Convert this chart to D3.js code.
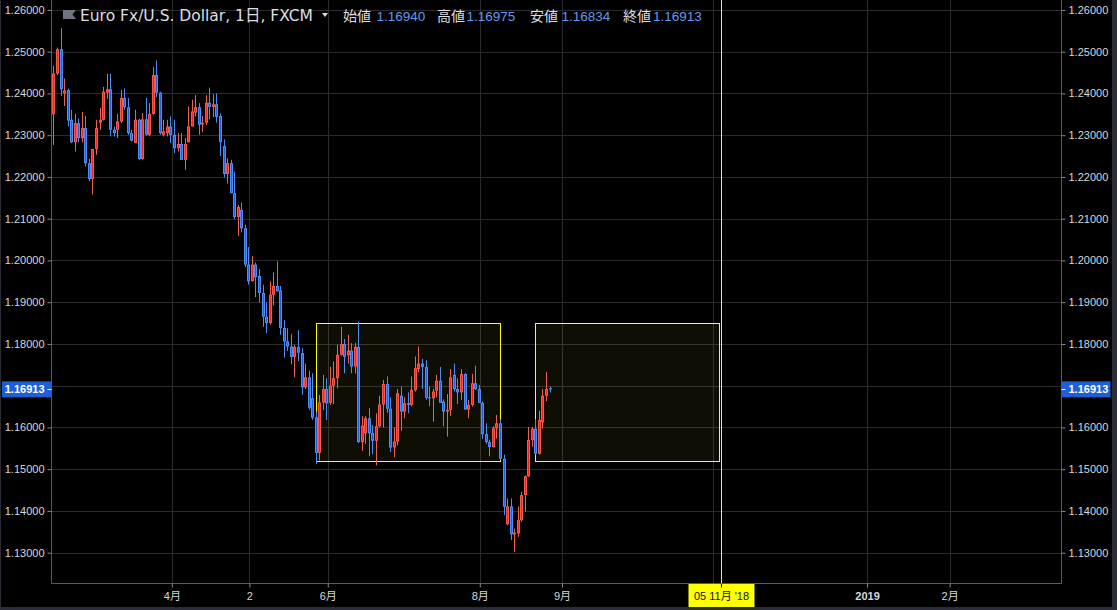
<!DOCTYPE html>
<html><head><meta charset="utf-8">
<script src="https://cdn.jsdelivr.net/npm/d3@7"></script>
<style>
html,body{margin:0;padding:0;background:#000;}
svg{display:block;}
</style></head><body>
<svg id="chart" width="1117" height="610"></svg>
<script>
// ---- data (EUR/USD daily, FXCM) ----
const opens = [1.2350,1.2448,1.2506,1.2400,1.2408,1.2337,1.2283,1.2329,1.2293,1.2317,
1.2233,1.2195,1.2267,1.2330,1.2337,1.2402,1.2410,1.2313,1.2313,1.2333,
1.2389,1.2367,1.2305,1.2281,1.2337,1.2243,1.2338,1.2301,1.2351,1.2444,
1.2402,1.2301,1.2305,1.2321,1.2301,1.2269,1.2279,1.2241,1.2283,1.2321,
1.2354,1.2367,1.2326,1.2330,1.2378,1.2368,1.2374,1.2346,1.2274,1.2207,
1.2233,1.2161,1.2104,1.2121,1.2077,1.1990,1.1950,1.1990,1.1963,1.1922,
1.1865,1.1850,1.1918,1.1939,1.1928,1.1838,1.1806,1.1794,1.1769,1.1793,
1.1778,1.1696,1.1720,1.1670,1.1624,1.1539,1.1660,1.1692,1.1659,1.1700,
1.1718,1.1774,1.1800,1.1773,1.1784,1.1746,1.1793,1.1565,1.1586,1.1622,
1.1587,1.1568,1.1603,1.1655,1.1704,1.1645,1.1552,1.1566,1.1676,1.1638,
1.1658,1.1654,1.1690,1.1740,1.1753,1.1745,1.1672,1.1670,1.1688,1.1712,
1.1662,1.1638,1.1642,1.1726,1.1692,1.1684,1.1728,1.1643,1.1654,1.1706,
1.1692,1.1659,1.1584,1.1565,1.1553,1.1598,1.1610,1.1525,1.1368,1.1411,
1.1344,1.1346,1.1378,1.1438,1.1483,1.1570,1.1597,1.1537,1.1612,1.1676,
1.16940];
const highs = [1.2466,1.2510,1.2556,1.2436,1.2412,1.2361,1.2351,1.2340,1.2356,1.2346,
1.2243,1.2267,1.2337,1.2365,1.2416,1.2447,1.2447,1.2321,1.2351,1.2408,
1.2412,1.2389,1.2313,1.2361,1.2340,1.2353,1.2389,1.2377,1.2463,1.2479,
1.2404,1.2337,1.2337,1.2345,1.2337,1.2305,1.2305,1.2293,1.2369,1.2385,
1.2396,1.2377,1.2346,1.2396,1.2414,1.2398,1.2400,1.2352,1.2290,1.2245,
1.2241,1.2213,1.2133,1.2139,1.2085,1.2032,1.2011,1.1995,1.1979,1.1942,
1.1900,1.1950,1.1971,1.1998,1.1939,1.1857,1.1838,1.1824,1.1798,1.1833,
1.1790,1.1753,1.1736,1.1730,1.1638,1.1678,1.1726,1.1718,1.1745,1.1758,
1.1798,1.1841,1.1812,1.1822,1.1802,1.1802,1.1853,1.1627,1.1627,1.1646,
1.1606,1.1634,1.1676,1.1714,1.1722,1.1672,1.1600,1.1692,1.1698,1.1672,
1.1684,1.1722,1.1770,1.1794,1.1764,1.1761,1.1698,1.1692,1.1726,1.1745,
1.1667,1.1680,1.1740,1.1753,1.1718,1.1740,1.1730,1.1666,1.1728,1.1748,
1.1702,1.1662,1.1610,1.1571,1.1603,1.1630,1.1619,1.1535,1.1430,1.1430,
1.1358,1.1410,1.1446,1.1485,1.1601,1.1601,1.1620,1.1640,1.1692,1.1733,
1.16975];
const lows = [1.2277,1.2444,1.2394,1.2370,1.2321,1.2281,1.2261,1.2283,1.2283,1.2225,
1.2190,1.2158,1.2253,1.2313,1.2335,1.2387,1.2297,1.2297,1.2293,1.2329,
1.2361,1.2301,1.2285,1.2281,1.2240,1.2240,1.2299,1.2298,1.2349,1.2391,
1.2301,1.2297,1.2297,1.2281,1.2257,1.2261,1.2241,1.2217,1.2283,1.2321,
1.2345,1.2301,1.2308,1.2324,1.2338,1.2343,1.2330,1.2250,1.2199,1.2184,
1.2161,1.2099,1.2059,1.2067,1.1984,1.1942,1.1950,1.1912,1.1900,1.1841,
1.1826,1.1846,1.1892,1.1926,1.1822,1.1767,1.1783,1.1751,1.1720,1.1759,
1.1678,1.1692,1.1642,1.1618,1.1512,1.1521,1.1642,1.1618,1.1654,1.1656,
1.1694,1.1772,1.1730,1.1753,1.1730,1.1729,1.1563,1.1544,1.1561,1.1531,
1.1536,1.1509,1.1600,1.1600,1.1635,1.1541,1.1529,1.1557,1.1592,1.1622,
1.1634,1.1651,1.1686,1.1732,1.1692,1.1666,1.1651,1.1614,1.1672,1.1659,
1.1603,1.1578,1.1627,1.1686,1.1656,1.1666,1.1643,1.1622,1.1650,1.1690,
1.1659,1.1573,1.1561,1.1531,1.1552,1.1573,1.1522,1.1390,1.1366,1.1330,
1.1302,1.1338,1.1374,1.1398,1.1481,1.1554,1.1535,1.1535,1.1597,1.1663,
1.16834];
const closes = [1.2448,1.2506,1.2410,1.2407,1.2335,1.2283,1.2329,1.2293,1.2317,1.2233,
1.2195,1.2267,1.2317,1.2337,1.2404,1.2410,1.2313,1.2305,1.2333,1.2389,
1.2367,1.2305,1.2287,1.2337,1.2243,1.2338,1.2301,1.2351,1.2444,1.2402,
1.2305,1.2309,1.2321,1.2301,1.2269,1.2279,1.2241,1.2279,1.2321,1.2357,
1.2367,1.2325,1.2330,1.2378,1.2368,1.2374,1.2344,1.2284,1.2207,1.2233,
1.2161,1.2104,1.2128,1.2077,1.1990,1.1950,1.1990,1.1960,1.1922,1.1865,
1.1850,1.1918,1.1939,1.1926,1.1838,1.1806,1.1794,1.1769,1.1793,1.1779,
1.1696,1.1720,1.1647,1.1623,1.1539,1.1660,1.1692,1.1658,1.1700,1.1718,
1.1774,1.1800,1.1769,1.1784,1.1746,1.1793,1.1565,1.1604,1.1622,1.1586,
1.1568,1.1603,1.1655,1.1704,1.1645,1.1552,1.1566,1.1682,1.1638,1.1658,
1.1654,1.1690,1.1742,1.1753,1.1745,1.1671,1.1670,1.1686,1.1712,1.1659,
1.1638,1.1642,1.1720,1.1692,1.1684,1.1728,1.1643,1.1654,1.1706,1.1692,
1.1659,1.1584,1.1565,1.1553,1.1598,1.1610,1.1525,1.1410,1.1411,1.1344,
1.1348,1.1378,1.1438,1.1483,1.1570,1.1597,1.1537,1.1618,1.1676,1.1692,
1.16913];

const priceTicks = [1.26,1.25,1.24,1.23,1.22,1.21,1.20,1.19,1.18,1.17,1.16,1.15,1.14,1.13];
// price tick labels hidden behind the last-price tag
const hiddenPriceTicks = [1.17];
const timeTickLabels = ["4月","2","6月","8月","9月","","2019","2月"]; // 11月 label hidden under date tag
const timeTickIndex  = [33.4, 55.3, 77.4, 120.3, 143.5, 186.2, 229.6, 252.9];
const boldTimeLabels = ["2019"];

const boxStartIndex = [74, 136];
const boxEndIndex   = [126, 188];
const boxTopPrice   = [1.1851, 1.1851];
const boxBottomPrice= [1.1520, 1.1521];

const markerIndex = 188.4;
const markerLabel = "05 11月 '18";

const titleText = "Euro Fx/U.S. Dollar, 1日, FXCM";
const ohlcLabels = ["始値","高値","安値","終値"];
const ohlcValues = ["1.16940","1.16975","1.16834","1.16913"];
const lastPrice = 1.16913;

// ---- layout ----
const W = 1117, H = 610;
const plotL = 51.5, plotR = 1061.5, plotT = 0, plotB = 583.5;

const svg = d3.select("#chart");
svg.append("rect").attr("width",W).attr("height",H).attr("fill","#2a2d35");
svg.append("rect").attr("x",1).attr("y",0).attr("width",1111).attr("height",607).attr("fill","#000");

const x = d3.scaleLinear().domain([-0.5, 284.6]).range([51.7, 1062]);
const y = d3.scaleLinear().domain([1.13, 1.26]).range([552.7, 9.95]);
const snap = v => Math.round(v) + 0.5;

const gridColor = "#2b2b2b", axisColor = "#5a5a5a", textColor = "#d6d8dc";
const FONT = "'Liberation Sans', Arial, 'Noto Sans CJK JP', sans-serif";

// grid
const grid = svg.append("g");
grid.selectAll("line.h").data(priceTicks).join("line")
  .attr("x1", plotL).attr("x2", plotR)
  .attr("y1", d => snap(y(d))).attr("y2", d => snap(y(d)))
  .attr("stroke", gridColor).attr("stroke-width", 1);
grid.selectAll("line.v").data(timeTickIndex).join("line")
  .attr("x1", d => snap(x(d))).attr("x2", d => snap(x(d)))
  .attr("y1", plotT).attr("y2", plotB)
  .attr("stroke", gridColor).attr("stroke-width", 1);

// boxes
const boxes = d3.range(boxStartIndex.length).map(i => ({
  s: boxStartIndex[i], e: boxEndIndex[i], t: boxTopPrice[i], b: boxBottomPrice[i]}));
svg.append("g").selectAll("rect").data(boxes).join("rect")
  .attr("x", d => snap(x(d.s))).attr("y", d => snap(y(d.t)))
  .attr("width", d => Math.round(x(d.e) - x(d.s)))
  .attr("height", d => Math.round(y(d.b) - y(d.t)))
  .attr("fill", "rgba(255,245,80,0.06)")
  .attr("stroke", "#ffff00").attr("stroke-width", 1);

// candles
const candles = opens.map((o, i) => ({i, o, h: highs[i], l: lows[i], c: closes[i]}));
const up = d => d.c >= d.o;
const cg = svg.append("g").selectAll("g").data(candles).join("g");
cg.append("line")
  .attr("x1", d => Math.round(x(d.i)) + 0.5).attr("x2", d => Math.round(x(d.i)) + 0.5)
  .attr("y1", d => y(d.h)).attr("y2", d => y(d.l))
  .attr("stroke", d => up(d) ? "#ec6450" : "#4c8ef4").attr("stroke-width", 1);
cg.append("rect")
  .attr("x", d => Math.round(x(d.i)) - 1).attr("width", 3)
  .attr("y", d => y(Math.max(d.o, d.c)))
  .attr("height", d => Math.max(1, Math.abs(y(d.o) - y(d.c))))
  .attr("fill", d => up(d) ? "#f8574a" : "#4f8ff7");
cg.filter(d => Math.abs(y(d.o) - y(d.c)) > 2).append("rect")
  .attr("x", d => Math.round(x(d.i))).attr("width", 1)
  .attr("y", d => y(Math.max(d.o, d.c)) + 1)
  .attr("height", d => Math.abs(y(d.o) - y(d.c)) - 2)
  .attr("fill", d => up(d) ? "#ff1e1e" : "#1f5ee0");

// axes lines
const ax = svg.append("g").attr("stroke", axisColor).attr("stroke-width", 1);
ax.append("line").attr("x1", plotL).attr("x2", plotL).attr("y1", 0).attr("y2", plotB);
ax.append("line").attr("x1", plotR).attr("x2", plotR).attr("y1", 0).attr("y2", plotB);
ax.append("line").attr("x1", plotL).attr("x2", plotR).attr("y1", plotB).attr("y2", plotB);

// price axes (left and right) using d3 axes
const fmt = d3.format(".5f");
const shownTicks = priceTicks.filter(p => !hiddenPriceTicks.includes(p));
const leftAxis = d3.axisLeft(y).tickValues(shownTicks).tickFormat(fmt).tickSize(4).tickPadding(3);
const rightAxis = d3.axisRight(y).tickValues(shownTicks).tickFormat(fmt).tickSize(4).tickPadding(3);
function styleAxis(g) {
  g.select(".domain").remove();
  g.selectAll(".tick line").attr("stroke", "#8a8a8a");
  g.selectAll(".tick text").attr("fill", textColor).style("font", "11px " + FONT);
}
svg.append("g").attr("transform", `translate(${plotL},0)`).call(leftAxis).call(styleAxis);
svg.append("g").attr("transform", `translate(${plotR},0)`).call(rightAxis).call(styleAxis);

// time axis
const bottomAxis = d3.axisBottom(x).tickValues(timeTickIndex)
  .tickFormat((d, i) => timeTickLabels[i]).tickSize(4).tickPadding(5);
svg.append("g").attr("transform", `translate(0,${plotB})`).call(bottomAxis)
  .call(g => {
    g.select(".domain").remove();
    g.selectAll(".tick line").attr("stroke", "#8a8a8a");
    g.selectAll(".tick text").attr("fill", textColor)
      .style("font", (d, i) => (boldTimeLabels.includes(timeTickLabels[i]) ? "bold " : "") + "11px " + FONT);
  });

// vertical marker
const mx = snap(x(markerIndex));
svg.append("line").attr("x1", mx).attr("x2", mx).attr("y1", 0).attr("y2", plotB + 3)
  .attr("stroke", "#ffff00").attr("stroke-width", 1);
svg.append("rect").attr("x", mx - 33).attr("y", plotB + 0.5).attr("width", 66).attr("height", 23)
  .attr("fill", "#ffff00");
svg.append("line").attr("x1", mx).attr("x2", mx).attr("y1", plotB).attr("y2", plotB + 4)
  .attr("stroke", "#000").attr("stroke-width", 1);
svg.append("text").attr("x", mx).attr("y", plotB + 16).attr("text-anchor", "middle")
  .attr("fill", "#111").style("font", "11px " + FONT).text(markerLabel);

// last price labels
const ly = y(lastPrice);
[[2, 49.5], [plotR, 49]].forEach(([bx, bw], k) => {
  svg.append("rect").attr("x", bx).attr("y", ly - 8).attr("width", bw).attr("height", 16)
    .attr("fill", "#1e5fd6");
  svg.append("line")
    .attr("x1", k === 0 ? plotL - 4 : plotR).attr("x2", k === 0 ? plotL : plotR + 4)
    .attr("y1", Math.round(ly) + 0.5).attr("y2", Math.round(ly) + 0.5)
    .attr("stroke", "#fff").attr("stroke-width", 1);
  svg.append("text")
    .attr("x", k === 0 ? plotL - 7 : plotR + 7).attr("y", ly + 4)
    .attr("text-anchor", k === 0 ? "end" : "start")
    .attr("fill", "#fff").style("font", "bold 11px " + FONT).text(fmt(lastPrice));
});

// header
const hdr = svg.append("g");
hdr.append("path").attr("d", "M63,10 H76 L72.5,14.5 L76,19 H63 Z").attr("fill", "#6f737d");
hdr.append("text").attr("x", 80).attr("y", 20.5).attr("fill", "#dcdee2")
  .style("font", "15.5px 'DejaVu Sans', 'Noto Sans CJK JP', sans-serif").text(titleText);
hdr.append("path").attr("d", "M322,13 L328,13 L325,17 Z").attr("fill", "#d9dbe0");
const labelX = [343, 437, 530, 623];
const valueX = [376.5, 466.5, 561.5, 653];
ohlcLabels.forEach((t, i) => {
  hdr.append("text").attr("x", labelX[i]).attr("y", 20.5).attr("fill", "#dcdee2")
    .style("font", "14px 'Noto Sans CJK JP', sans-serif").text(t);
  hdr.append("text").attr("x", valueX[i]).attr("y", 20.5).attr("fill", "#5f9cf2")
    .style("font", "13.5px 'Liberation Sans', Arial, sans-serif").text(ohlcValues[i]);
});
</script>
</body></html>
